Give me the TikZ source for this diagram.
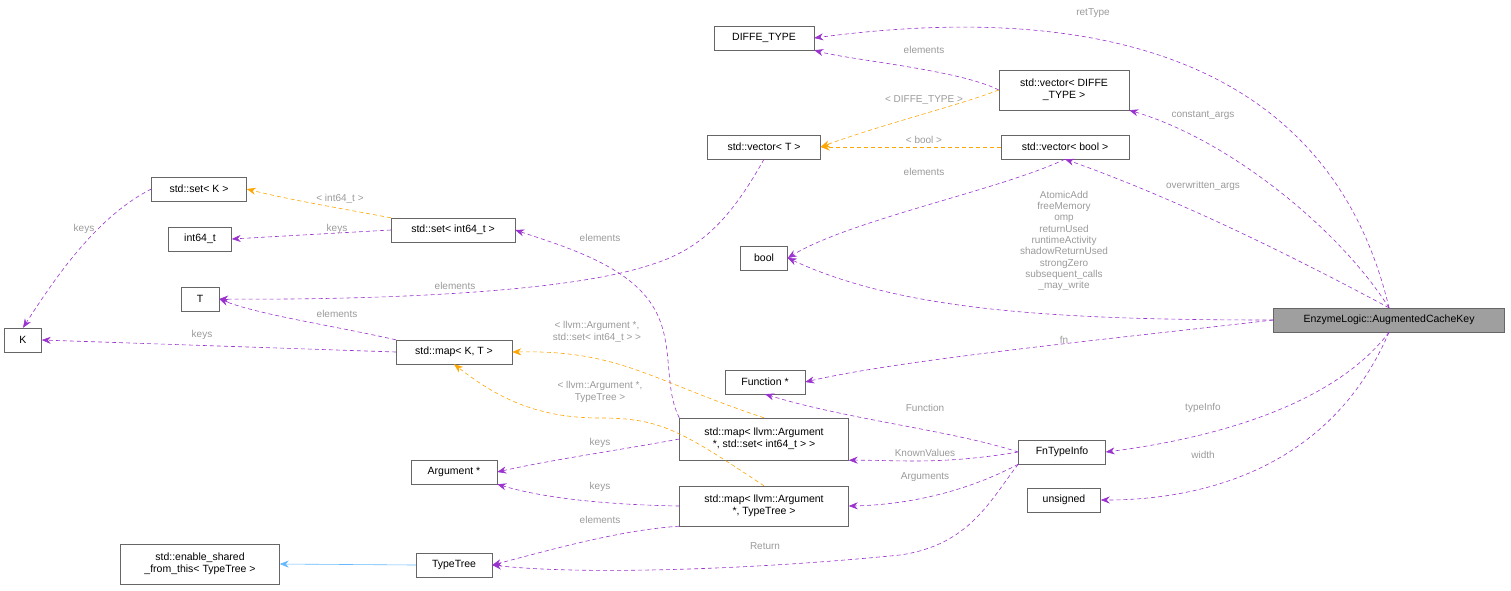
\documentclass[tikz,border=0pt]{standalone}
\usepackage{fontspec}
\setmainfont{Liberation Sans}
\usetikzlibrary{arrows.meta}
\definecolor{edgepurple}{HTML}{9A32CD}
\definecolor{edgeorange}{HTML}{FFA500}
\definecolor{edgeblue}{HTML}{63B8FF}
\definecolor{labelgray}{HTML}{9A9A9A}
\definecolor{boxgray}{HTML}{666666}
\begin{document}
\begin{tikzpicture}[x=1pt,y=-1pt,
    classnode/.style={draw=boxgray, fill=white, rectangle, inner sep=2pt,
        minimum height=24, align=center, font=\fontsize{10.5}{12}\selectfont},
    member/.style={-{Stealth[length=9pt,width=7pt]}, edgepurple, dash pattern=on 4pt off 3pt, semithick},
    templ/.style={-{Stealth[length=9pt,width=7pt]}, edgeorange, dash pattern=on 4pt off 3pt, semithick},
    inherit/.style={-{Stealth[length=9pt,width=7pt]}, edgeblue, semithick},
    lbl/.style={text=labelgray, font=\fontsize{10}{11.3}\selectfont, align=center, inner sep=1pt},
]
\useasboundingbox (0,0) rectangle (1511,590);

% nodes
\node[classnode, minimum width=100] (diffe) at (764,38) {DIFFE\_TYPE};
\node[classnode, minimum width=130, minimum height=40] (vecdiffe) at (1064,90) {std::vector< DIFFE\\\_TYPE >};
\node[classnode, minimum width=113] (vect) at (764,147) {std::vector< T >};
\node[classnode, minimum width=128] (vecbool) at (1065,147) {std::vector< bool >};
\node[classnode, minimum width=95] (setk) at (199,189) {std::set< K >};
\node[classnode, minimum width=63] (int64) at (200,239) {int64\_t};
\node[classnode, minimum width=124] (setint) at (453,230) {std::set< int64\_t >};
\node[classnode, minimum width=47] (bool) at (764,258) {bool};
\node[classnode, minimum width=38] (t) at (200,299) {T};
\node[classnode, minimum width=37] (k) at (23,340) {K};
\node[classnode, minimum width=116] (mapkt) at (454,352) {std::map< K, T >};
\node[classnode, fill=gray!75, minimum width=231] (key) at (1389,320) {EnzymeLogic::AugmentedCacheKey};
\node[classnode, minimum width=80] (func) at (765,382) {Function *};
\node[classnode, minimum width=169, minimum height=42] (mapset) at (764,439) {std::map< llvm::Argument\\*, std::set< int64\_t > >};
\node[classnode, minimum width=87] (fti) at (1062,452) {FnTypeInfo};
\node[classnode, minimum width=86] (arg) at (454,472) {Argument *};
\node[classnode, minimum width=73] (unsig) at (1064,500) {unsigned};
\node[classnode, minimum width=169, minimum height=40] (maptt) at (764,506) {std::map< llvm::Argument\\*, TypeTree >};
\node[classnode, minimum width=159, minimum height=40] (shared) at (200,564) {std::enable\_shared\\\_from\_this< TypeTree >};
\node[classnode, minimum width=76] (tt) at (454,565) {TypeTree};

% connectors
\draw[member] (key.north) .. controls (1330,60) and (1100,0) .. (diffe.east);
\draw[member] (vecdiffe.west) .. controls (960,70) and (850,60) .. (diffe.south east);
\draw[member] (key.north) .. controls (1340,230) and (1230,140) .. (vecdiffe.south east);
\draw[templ] (vecdiffe.west) .. controls (960,105) and (880,125) .. (vect.east);
\draw[templ] (vecbool.west) -- (vect.east);
\draw[member] (key.north) .. controls (1300,260) and (1180,200) .. (vecbool.south);
\draw[member] (vecbool.south) .. controls (1000,190) and (850,220) .. (bool.east);
\draw[member] (key.west) .. controls (1050,320) and (900,310) .. (bool.east);
\draw[member] (vect.south) .. controls (730,220) and (700,250) .. (650,265) .. controls (560,295) and (350,300) .. (t.east);
\draw[templ] (setint.north west) .. controls (350,210) and (290,200) .. (setk.east);
\draw[member] (setint.west) -- (int64.east);
\draw[member] (setk.west) .. controls (100,215) and (60,270) .. (k.north);
\draw[member] (mapkt.north west) .. controls (330,325) and (260,315) .. (t.east);
\draw[member] (mapkt.west) -- (k.east);
\draw[templ] (mapset.north) .. controls (650,380) and (620,350) .. (mapkt.east);
\draw[templ] (maptt.north) .. controls (680,430) and (660,418) .. (600,418) .. controls (540,418) and (500,400) .. (mapkt.south);
\draw[member] (mapset.north west) .. controls (660,380) and (680,330) .. (640,290) .. controls (610,260) and (560,245) .. (setint.east);
\draw[member] (key.west) .. controls (1100,340) and (900,360) .. (func.east);
\draw[member] (fti.west) .. controls (950,430) and (850,420) .. (func.south);
\draw[member] (key.south) .. controls (1330,410) and (1200,440) .. (fti.east);
\draw[member] (key.south) .. controls (1330,470) and (1200,500) .. (unsig.east);
\draw[member] (fti.west) .. controls (940,465) and (900,460) .. (mapset.south east);
\draw[member] (fti.south west) .. controls (960,495) and (900,505) .. (maptt.east);
\draw[member] (fti.south west) .. controls (990,500) and (970,545) .. (900,555) .. controls (750,570) and (580,575) .. (tt.east);
\draw[member] (mapset.west) .. controls (620,450) and (550,460) .. (arg.east);
\draw[member] (maptt.west) .. controls (620,505) and (550,500) .. (arg.south east);
\draw[member] (maptt.south west) .. controls (620,530) and (550,550) .. (tt.east);
\draw[inherit] (tt.west) -- (shared.east);

% labels
\node[lbl] (lretType) at (1093,13) {retType};
\node[lbl] (lelemdiffe) at (924,50) {elements};
\node[lbl] (lconst) at (1203,115) {constant\_args};
\node[lbl] (ltdiffe) at (924,100) {< DIFFE\_TYPE >};
\node[lbl] (ltbool) at (924,140) {< bool >};
\node[lbl] (loverw) at (1203,186) {overwritten\_args};
\node[lbl] (lelembool) at (924,172) {elements};
\node[lbl] (lflags) at (1064,241) {AtomicAdd\\freeMemory\\omp\\returnUsed\\runtimeActivity\\shadowReturnUsed\\strongZero\\subsequent\_calls\\\_may\_write};
\node[lbl] (lelemt) at (455,286) {elements};
\node[lbl] (ltint) at (340,199) {< int64\_t >};
\node[lbl] (lkeysint) at (337,229) {keys};
\node[lbl] (lkeysk) at (84,229) {keys};
\node[lbl] (lelemkt) at (337,314) {elements};
\node[lbl] (lkeyskt) at (202,335) {keys};
\node[lbl] (ltmapset) at (597,332) {< llvm::Argument *,\\std::set< int64\_t > >};
\node[lbl] (ltmaptt) at (600,392) {< llvm::Argument *,\\TypeTree >};
\node[lbl] (lelemset) at (600,238) {elements};
\node[lbl] (lfn) at (1064,340) {fn};
\node[lbl] (lfunc) at (925,408) {Function};
\node[lbl] (ltype) at (1203,408) {typeInfo};
\node[lbl] (lwidth) at (1203,455) {width};
\node[lbl] (lknown) at (925,453) {KnownValues};
\node[lbl] (largs) at (925,477) {Arguments};
\node[lbl] (lret) at (765,546) {Return};
\node[lbl] (lkeysset) at (600,443) {keys};
\node[lbl] (lkeystt) at (600,487) {keys};
\node[lbl] (lelemtt) at (600,520) {elements};
\end{tikzpicture}
\end{document}
